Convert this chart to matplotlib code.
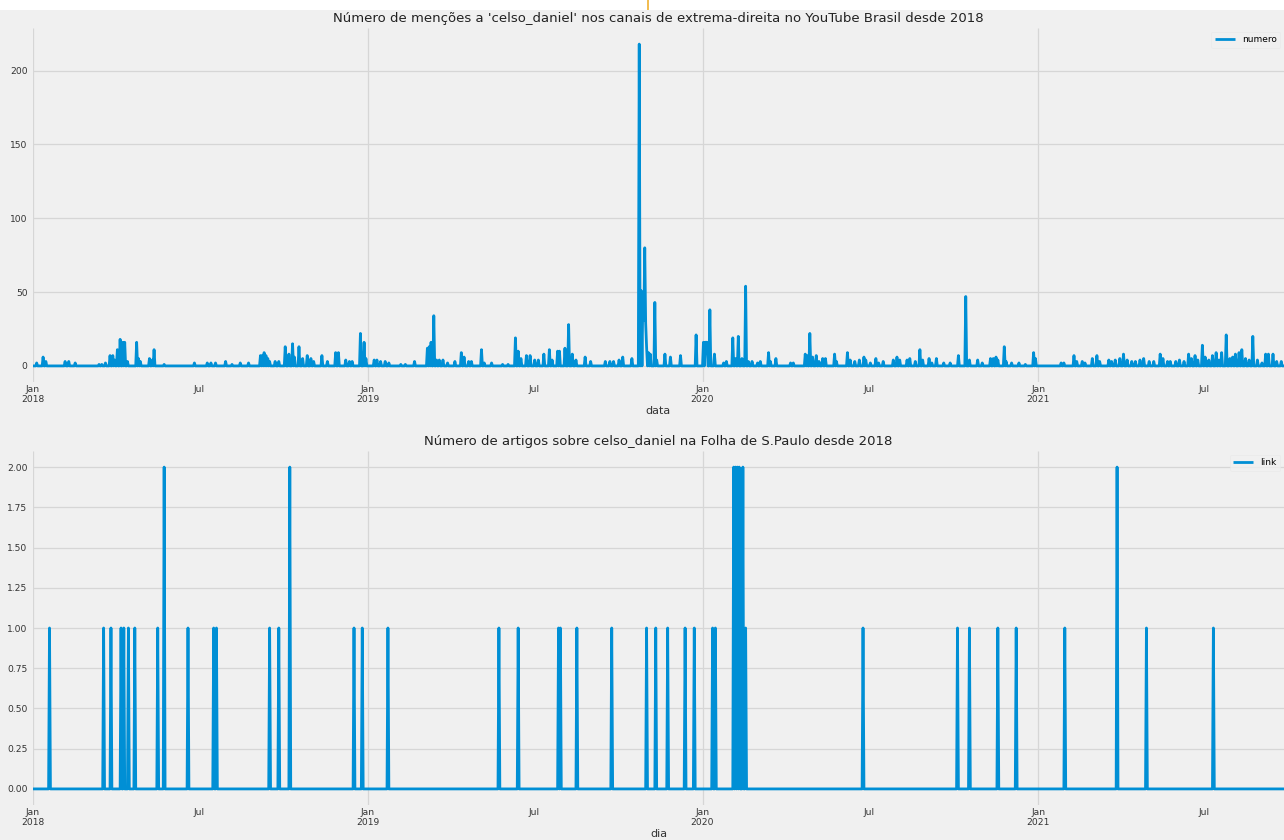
import matplotlib
matplotlib.use("Agg")
import matplotlib.pyplot as plt
import matplotlib.dates as mdates
import pandas as pd

plt.style.use("fivethirtyeight")
plt.rcParams['font.family'] = ['DejaVu Sans']

# ---------------- data ----------------
start_date = "2018-01-01"
end_date = "2021-09-26"

# YouTube mentions per day (days not listed = 0)
yt_dates = [
    "2018-01-05", "2018-01-12", "2018-01-15", "2018-02-05", "2018-02-09", "2018-02-16",
    "2018-03-14", "2018-03-17", "2018-03-21", "2018-03-26", "2018-03-29", "2018-03-31",
    "2018-04-03", "2018-04-06", "2018-04-09", "2018-04-11", "2018-04-14", "2018-04-24",
    "2018-04-26", "2018-04-28", "2018-05-08", "2018-05-11", "2018-05-13", "2018-05-24",
    "2018-06-26", "2018-07-10", "2018-07-14", "2018-07-19", "2018-07-30", "2018-08-06",
    "2018-08-15", "2018-08-24", "2018-09-06", "2018-09-08", "2018-09-10", "2018-09-12",
    "2018-09-14", "2018-09-16", "2018-09-22", "2018-09-26", "2018-10-03", "2018-10-07",
    "2018-10-11", "2018-10-13", "2018-10-18", "2018-10-22", "2018-10-27", "2018-10-31",
    "2018-11-03", "2018-11-12", "2018-11-18", "2018-11-27", "2018-11-30", "2018-12-08",
    "2018-12-12", "2018-12-15", "2018-12-24", "2018-12-28", "2018-12-30",
    "2019-01-08", "2019-01-11", "2019-01-15", "2019-01-20", "2019-01-24", "2019-02-06",
    "2019-02-11", "2019-02-21", "2019-03-07", "2019-03-09", "2019-03-11", "2019-03-14",
    "2019-03-17", "2019-03-20", "2019-03-24", "2019-03-29", "2019-04-06", "2019-04-13",
    "2019-04-16", "2019-04-21", "2019-04-24", "2019-05-05", "2019-05-08", "2019-05-16",
    "2019-05-28", "2019-06-03", "2019-06-11", "2019-06-14", "2019-06-17", "2019-06-23",
    "2019-06-27", "2019-07-02", "2019-07-06", "2019-07-12", "2019-07-18", "2019-07-21",
    "2019-07-27", "2019-07-29", "2019-08-04", "2019-08-08", "2019-08-12", "2019-08-16",
    "2019-08-26", "2019-09-01", "2019-09-17", "2019-09-22", "2019-09-26", "2019-10-02",
    "2019-10-06", "2019-10-16", "2019-10-24", "2019-10-26", "2019-10-28", "2019-10-29",
    "2019-10-30", "2019-10-31", "2019-11-01", "2019-11-03", "2019-11-05", "2019-11-10",
    "2019-11-12", "2019-11-21", "2019-11-27", "2019-12-08", "2019-12-25",
    "2020-01-02", "2020-01-04", "2020-01-05", "2020-01-06", "2020-01-09", "2020-01-14",
    "2020-01-24", "2020-01-27", "2020-02-03", "2020-02-06", "2020-02-09", "2020-02-13",
    "2020-02-17", "2020-02-20", "2020-02-24", "2020-03-01", "2020-03-04", "2020-03-13",
    "2020-03-15", "2020-03-21", "2020-04-06", "2020-04-09", "2020-04-22", "2020-04-24",
    "2020-04-27", "2020-04-30", "2020-05-04", "2020-05-07", "2020-05-11", "2020-05-14",
    "2020-05-24", "2020-05-26", "2020-06-07", "2020-06-10", "2020-06-15", "2020-06-20",
    "2020-06-25", "2020-06-27", "2020-07-02", "2020-07-08", "2020-07-11", "2020-07-16",
    "2020-07-27", "2020-07-31", "2020-08-03", "2020-08-11", "2020-08-14", "2020-08-20",
    "2020-08-25", "2020-08-28", "2020-09-04", "2020-09-07", "2020-09-12", "2020-09-20",
    "2020-09-27", "2020-10-06", "2020-10-14", "2020-10-18", "2020-10-27", "2020-11-01",
    "2020-11-10", "2020-11-13", "2020-11-16", "2020-11-18", "2020-11-25", "2020-11-27",
    "2020-12-03", "2020-12-11", "2020-12-18", "2020-12-27", "2020-12-29",
    "2021-01-26", "2021-01-29", "2021-02-09", "2021-02-12", "2021-02-18", "2021-02-21",
    "2021-03-01", "2021-03-06", "2021-03-09", "2021-03-19", "2021-03-22", "2021-03-26",
    "2021-03-31", "2021-04-04", "2021-04-08", "2021-04-13", "2021-04-17", "2021-04-22",
    "2021-04-26", "2021-05-02", "2021-05-07", "2021-05-14", "2021-05-17", "2021-05-22",
    "2021-05-25", "2021-05-31", "2021-06-04", "2021-06-09", "2021-06-14", "2021-06-17",
    "2021-06-21", "2021-06-24", "2021-06-29", "2021-07-02", "2021-07-06", "2021-07-10",
    "2021-07-14", "2021-07-17", "2021-07-20", "2021-07-25", "2021-07-29", "2021-08-01",
    "2021-08-04", "2021-08-08", "2021-08-11", "2021-08-15", "2021-08-19", "2021-08-23",
    "2021-08-28", "2021-09-02", "2021-09-06", "2021-09-09", "2021-09-14", "2021-09-18",
    "2021-09-23",
]
yt_values = [
    2, 6, 3, 3, 3, 2,
    1, 1, 2, 7, 7, 4,
    11, 18, 16, 16, 3, 16,
    5, 3, 5, 4, 11, 1,
    2, 2, 2, 2, 3, 1,
    2, 2, 7, 7, 9, 7,
    5, 3, 3, 3, 13, 8,
    15, 6, 13, 5, 7, 5,
    3, 7, 3, 9, 9, 4,
    3, 3, 22, 16, 5,
    4, 4, 3, 3, 2, 1,
    1, 3, 12, 13, 16, 34,
    4, 4, 4, 2, 3, 9,
    6, 3, 3, 11, 2, 2,
    1, 1, 19, 10, 5, 7,
    7, 4, 4, 8, 11, 4,
    10, 10, 12, 28, 8, 4,
    6, 3, 3, 3, 3, 4,
    6, 5, 218, 51, 50, 31,
    80, 29, 13, 9, 8, 43,
    4, 8, 6, 7, 21,
    16, 16, 16, 16, 38, 8,
    2, 3, 19, 5, 20, 5,
    54, 3, 3, 2, 3, 9,
    3, 5, 2, 2, 8, 7,
    22, 6, 7, 3, 5, 5,
    8, 3, 9, 4, 3, 4,
    6, 4, 2, 5, 2, 3,
    4, 6, 4, 4, 5, 3,
    11, 4, 5, 2, 5, 2,
    2, 7, 47, 4, 4, 2,
    5, 5, 6, 4, 13, 3,
    2, 2, 1, 9, 5,
    2, 2, 7, 3, 3, 2,
    5, 7, 3, 4, 3, 4,
    5, 8, 4, 3, 3, 4,
    5, 3, 3, 8, 5, 3,
    3, 3, 4, 3, 8, 5,
    7, 4, 14, 6, 4, 7,
    9, 4, 9, 21, 5, 6,
    8, 9, 11, 5, 4, 20,
    4, 2, 8, 8, 8, 3,
    3,
]

# Folha articles per day (days not listed = 0)
folha_dates = [
    "2018-01-19", "2018-03-19", "2018-03-27", "2018-04-07", "2018-04-10", "2018-04-15",
    "2018-04-22", "2018-05-17", "2018-05-24", "2018-06-19", "2018-07-17", "2018-07-20",
    "2018-09-16", "2018-09-26", "2018-10-08", "2018-12-17", "2018-12-26",
    "2019-01-23", "2019-05-24", "2019-06-14", "2019-07-28", "2019-07-30", "2019-08-17",
    "2019-09-24", "2019-11-01", "2019-11-11", "2019-11-24", "2019-12-13", "2019-12-23",
    "2020-01-12", "2020-01-15", "2020-02-04", "2020-02-06", "2020-02-08", "2020-02-10",
    "2020-02-14", "2020-02-17", "2020-06-24", "2020-10-05", "2020-10-18", "2020-11-18",
    "2020-12-08",
    "2021-01-30", "2021-03-28", "2021-04-29", "2021-07-11",
]
folha_values = [
    1, 1, 1, 1, 1, 1,
    1, 1, 2, 1, 1, 1,
    1, 1, 2, 1, 1,
    1, 1, 1, 1, 1, 1,
    1, 1, 1, 1, 1, 1,
    1, 1, 2, 2, 2, 2,
    2, 1, 1, 1, 1, 1,
    1,
    1, 2, 1, 1,
]

titles = [
    "Número de menções a 'celso_daniel' nos canais de extrema-direita no YouTube Brasil desde 2018",
    "Número de artigos sobre celso_daniel na Folha de S.Paulo desde 2018",
]
xlabels = ["data", "dia"]
legend_labels = ["numero", "link"]
top_yticks = [0, 50, 100, 150, 200]
bottom_yticks = [0.0, 0.25, 0.5, 0.75, 1.0, 1.25, 1.5, 1.75, 2.0]

# ---------------- build daily series ----------------
idx = pd.date_range(start_date, end_date, freq="D")
yt = pd.Series(0.0, index=idx)
yt.loc[pd.to_datetime(yt_dates)] = yt_values
folha = pd.Series(0.0, index=idx)
folha.loc[pd.to_datetime(folha_dates)] = folha_values

# ---------------- figure ----------------
W, H = 1284, 840
fig = plt.figure(figsize=(W / 100, H / 100), dpi=100)
fig.patch.set_facecolor("#f0f0f0")

def px_axes(left, top, right, bottom):
    return fig.add_axes([left / W, 1 - bottom / H, (right - left) / W, (bottom - top) / H])

ax1 = px_axes(33, 28, 1284, 382)
ax2 = px_axes(33, 451, 1284, 805)

color = "#008fd5"
series = [yt, folha]
yticks = [top_yticks, bottom_yticks]
for ax, s, title, xl, lab, yt_ in zip([ax1, ax2], series, titles, xlabels, legend_labels, yticks):
    ax.set_facecolor("#f0f0f0")
    ax.plot(s.index, s.values, color=color, linewidth=2.0, label=lab)
    ax.set_xlim(s.index[0], s.index[-1])
    ax.margins(y=0.05)
    ax.set_yticks(yt_)
    if ax is ax2:
        ax.set_yticklabels([f"{v:.2f}" for v in yt_])
    ax.xaxis.set_major_locator(mdates.YearLocator())
    ax.xaxis.set_major_formatter(mdates.DateFormatter("%b\n%Y"))
    ax.xaxis.set_minor_locator(mdates.MonthLocator(bymonth=7))
    ax.xaxis.set_minor_formatter(mdates.DateFormatter("%b"))
    ax.tick_params(axis="both", which="both", labelsize=6.6, length=0, labelcolor="#333333")
    ax.tick_params(axis="x", which="both", pad=2)
    ax.tick_params(axis="y", which="both", pad=4)
    ax.grid(True, which="major", axis="both", color="#d6d6d6", linewidth=0.9)
    ax.grid(False, which="minor")
    for sp in ax.spines.values():
        sp.set_visible(False)
    ax.set_title(title, fontsize=9.5, color="#222222", pad=4)
    ax.set_xlabel(xl, fontsize=8, color="#333333", labelpad=1)
    leg = ax.legend(loc="upper right", fontsize=6.5, frameon=True, handlelength=2.2,
                    borderaxespad=0.4)
    leg.get_frame().set_facecolor("#f0f0f0")
    leg.get_frame().set_edgecolor("#e8e8e8")

# top white strip (screenshot artefact)
fig.patches.append(plt.Rectangle((0, 1 - 10 / H), 1, 10 / H, transform=fig.transFigure,
                                 facecolor="white", edgecolor="none", zorder=10))
fig.lines.append(plt.Line2D([648 / W, 648 / W], [1, 1 - 10 / H], transform=fig.transFigure,
                            color="#f0b030", linewidth=1.2, zorder=11))

fig.savefig("out.png", dpi=100, facecolor=fig.get_facecolor())
